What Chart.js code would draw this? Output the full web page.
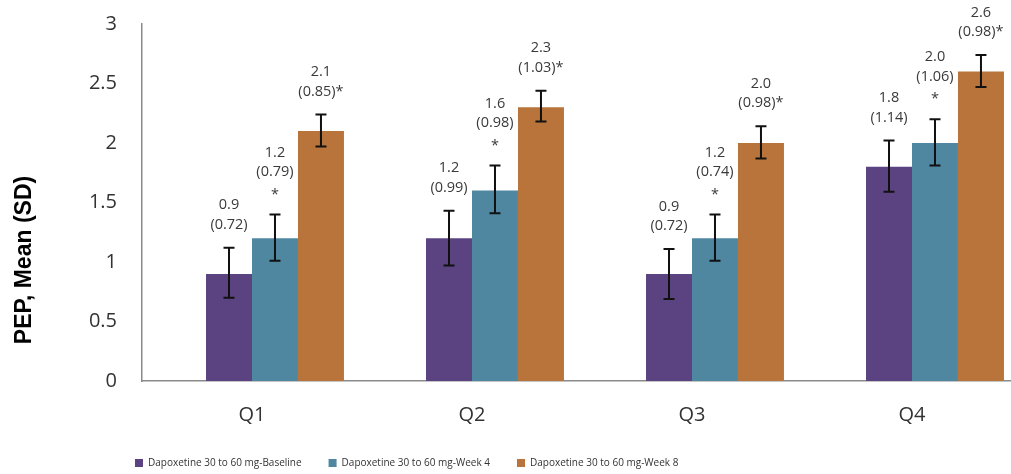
<!DOCTYPE html>
<html>
<head>
<meta charset="utf-8">
<script src="https://cdn.jsdelivr.net/npm/chart.js@4.4.1/dist/chart.umd.min.js"></script>
<style>
html,body{margin:0;padding:0;background:#fff;overflow:hidden;}
#wrap{position:relative;width:1040px;height:474px;}
</style>
</head>
<body>
<div id="wrap"><canvas id="c"></canvas></div>
<script>
const categories = ['Q1', 'Q2', 'Q3', 'Q4'];
const seriesNames = ['Dapoxetine 30 to 60 mg-Baseline', 'Dapoxetine 30 to 60 mg-Week 4', 'Dapoxetine 30 to 60 mg-Week 8'];
const baseline = [0.9, 1.2, 0.9, 1.8];
const week4 = [1.2, 1.6, 1.2, 2.0];
const week8 = [2.1, 2.3, 2.0, 2.6];
const baselineSD = ['0.72', '0.99', '0.72', '1.14'];
const week4SD = ['0.79', '0.98', '0.74', '1.06'];
const week8SD = ['0.85', '1.03', '0.98', '0.98'];
const baselineErrHigh = [1.12, 1.43, 1.11, 2.02];
const baselineErrLow = [0.70, 0.97, 0.69, 1.59];
const week4ErrHigh = [1.40, 1.81, 1.40, 2.20];
const week4ErrLow = [1.01, 1.41, 1.01, 1.81];
const week8ErrHigh = [2.24, 2.44, 2.14, 2.74];
const week8ErrLow = [1.97, 2.18, 1.87, 2.47];
const yTicks = [0, 0.5, 1, 1.5, 2, 2.5, 3];
const yTickLabels = ['0', '0.5', '1', '1.5', '2', '2.5', '3'];
const colors = ['#5a4380', '#4f87a0', '#b8743a'];

const values = [baseline, week4, week8];
const sds = [baselineSD, week4SD, week8SD];
const errHigh = [baselineErrHigh, week4ErrHigh, week8ErrHigh];
const errLow = [baselineErrLow, week4ErrLow, week8ErrLow];

function labelLines(s, i) {
  const v = values[s][i].toFixed(1);
  const sd = '(' + sds[s][i] + ')';
  if (s === 0) return [v, sd];
  if (s === 1) return [v, sd, '*'];
  return [v, sd + '*'];
}

const datasets = [{ label: '', data: categories.map(() => null), backgroundColor: 'rgba(0,0,0,0)' }];
seriesNames.forEach((n, s) => datasets.push({ label: n, data: values[s], backgroundColor: colors[s], borderWidth: 0 }));

const overlay = {
  id: 'overlay',
  afterLayout(chart) {
    const L = chart.legend;
    L.left += 108; L.right += 108;
  },
  afterDatasetsDraw(chart) {
    const ctx = chart.ctx;
    const y = chart.scales.y;
    ctx.save();
    for (let s = 0; s < 3; s++) {
      const meta = chart.getDatasetMeta(s + 1);
      meta.data.forEach((bar, i) => {
        const x = bar.x;
        const top = y.getPixelForValue(errHigh[s][i]);
        const bot = y.getPixelForValue(errLow[s][i]);
        ctx.strokeStyle = '#111';
        ctx.lineWidth = 2;
        ctx.beginPath();
        ctx.moveTo(x, top); ctx.lineTo(x, bot);
        ctx.moveTo(x - 5.5, top); ctx.lineTo(x + 5.5, top);
        ctx.moveTo(x - 5.5, bot); ctx.lineTo(x + 5.5, bot);
        ctx.stroke();
        const lines = labelLines(s, i);
        ctx.fillStyle = '#3a3a3a';
        ctx.font = '14.5px "Open Sans"';
        ctx.textAlign = 'center';
        ctx.textBaseline = 'middle';
        const last = top - 23;
        lines.forEach((t, k) => {
          const yy = last - (lines.length - 1 - k) * 19.5 + (t === '*' ? 3 : 0);
          ctx.fillText(t, x, yy);
        });
      });
    }
    ctx.save();
    ctx.translate(25, chart.chartArea.bottom - 121);
    ctx.rotate(-Math.PI / 2);
    ctx.fillStyle = '#000';
    ctx.font = 'bold 23px "Liberation Sans"';
    ctx.textAlign = 'center';
    ctx.textBaseline = 'middle';
    ctx.fillText('PEP, Mean (SD)', 0, 0);
    ctx.restore();
    ctx.restore();
  }
};

new Chart(document.getElementById('c'), {
  type: 'bar',
  data: { labels: categories, datasets },
  options: {
    responsive: true,
    maintainAspectRatio: false,
    animation: false,
    datasets: { bar: { categoryPercentage: 0.836, barPercentage: 1.0 } },
    layout: { padding: { top: 24, right: 18, left: 0, bottom: -4 } },
    plugins: {
      legend: {
        position: 'bottom',
        align: 'start',
        fullSize: true,
        labels: {
          filter: (item) => item.datasetIndex > 0,
          boxWidth: 8, boxHeight: 8, padding: 27,
          color: '#333', font: { size: 10, family: '"Open Sans"' }
        }
      },
      tooltip: { enabled: false }
    },
    scales: {
      x: {
        grid: { display: false, drawTicks: false },
        border: { display: true, color: '#8a8a8a', width: 1.5 },
        ticks: { color: '#333', font: { size: 20, family: '"Open Sans"' }, padding: 22 },
        afterFit: (s) => { s.height = 50; s.paddingTop = 0; s.paddingBottom = 0; }
      },
      y: {
        min: 0, max: 3,
        afterBuildTicks: (s) => { s.ticks = yTicks.map(v => ({ value: v })); },
        grid: { display: false, drawTicks: false },
        border: { display: true, color: '#8a8a8a', width: 1.5 },
        ticks: { color: '#333', font: { size: 20, family: '"Open Sans"' }, padding: 25,
          callback: (v, i) => yTickLabels[i] },
        afterFit: (s) => { s.width = 142; s.paddingTop = 0; s.paddingBottom = 0; }
      }
    }
  },
  plugins: [overlay]
});
</script>
</body>
</html>
